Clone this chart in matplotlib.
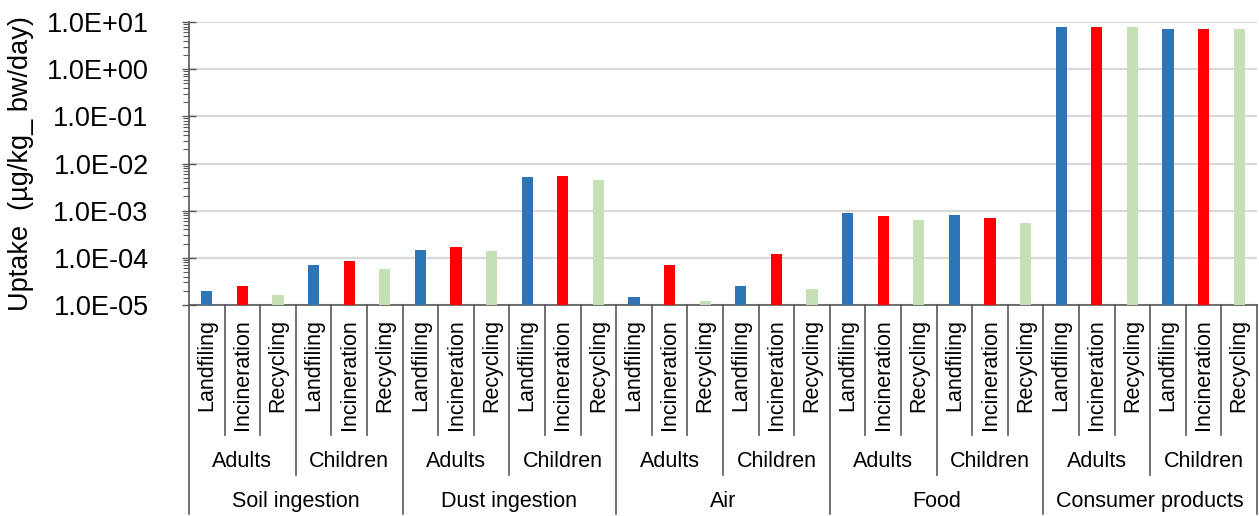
import numpy as np
import matplotlib
matplotlib.use('Agg')
import matplotlib.pyplot as plt
from matplotlib.ticker import LogLocator, NullFormatter, FixedLocator

plt.rcParams['font.family'] = ['Liberation Sans', 'DejaVu Sans']

# data
groups = ['Soil ingestion', 'Dust ingestion', 'Air', 'Food', 'Consumer products']
ages = ['Adults', 'Children']
methods = ['Landfiling', 'Incineration', 'Recycling']

# one value per (group, age), in order
landfiling   = [2.0e-5, 6.9e-5, 1.47e-4, 5.1e-3, 1.45e-5, 2.5e-5, 8.8e-4, 8.1e-4, 7.8, 7.2]
incineration = [2.5e-5, 8.4e-5, 1.67e-4, 5.4e-3, 6.9e-5, 1.19e-4, 7.6e-4, 7.1e-4, 7.8, 7.2]
recycling    = [1.65e-5, 5.7e-5, 1.37e-4, 4.5e-3, 1.24e-5, 2.15e-5, 6.2e-4, 5.4e-4, 7.8, 7.1]

ytick_vals = [1e-5, 1e-4, 1e-3, 1e-2, 1e-1, 1e0, 1e1]
ytick_labels = ['1.0E-05', '1.0E-04', '1.0E-03', '1.0E-02', '1.0E-01', '1.0E+00', '1.0E+01']

colors = ['#2E75B6', '#FF0000', '#C5E0B4']
line_col = '#595959'

fig = plt.figure(figsize=(12.59, 5.16), dpi=100)
# axes placed in pixel terms: left 189, right 1257, top 22, bottom 305
W, H = 1259, 516
ax_w = 1257 - 189
ax_h = 305 - 22
ax = fig.add_axes([189 / W, (H - 305) / H, ax_w / W, ax_h / H])

series = [landfiling, incineration, recycling]
n_sub = len(groups) * len(ages)
for m, vals in enumerate(series):
    x = np.arange(n_sub) * 3 + m
    ax.bar(x, vals, width=0.31, color=colors[m], zorder=3)

n_cat = n_sub * 3
ax.set_xlim(-0.5, n_cat - 0.5)
ax.set_yscale('log')
ax.set_ylim(1e-5, 1e1)
ax.yaxis.set_major_locator(FixedLocator(ytick_vals))
ax.set_yticklabels(ytick_labels, fontsize=19.5)
ax.yaxis.set_minor_locator(LogLocator(base=10, subs=np.arange(2, 10)))
ax.yaxis.set_minor_formatter(NullFormatter())
ax.tick_params(axis='y', which='major', direction='inout', length=10, width=1, color=line_col, pad=24)
ax.tick_params(axis='y', which='minor', direction='out', length=4, width=0.8, color=line_col)
ax.grid(axis='y', which='major', color='#D9D9D9', lw=1.6, zorder=0)
ax.set_xticks([])
for s in ['top', 'right']:
    ax.spines[s].set_visible(False)
for s in ['left', 'bottom']:
    ax.spines[s].set_color(line_col)
    ax.spines[s].set_linewidth(1.2)

ax.set_ylabel('Uptake  (µg/kg_ bw/day)', fontsize=19.5)
ax.yaxis.set_label_coords(-(189 - 34) / ax_w, 0.5)

tr = ax.get_xaxis_transform()


def fy(px):
    # pixels below the x axis -> axes fraction
    return -px / ax_h


# category separators and labels
lv1, lv2, lv3 = 130, 170, 209
for i in range(n_cat + 1):
    xb = i - 0.5
    if i % 6 == 0:
        depth = lv3
    elif i % 3 == 0:
        depth = lv2
    else:
        depth = lv1
    ax.plot([xb, xb], [0, fy(depth)], transform=tr, color=line_col, lw=1.2, clip_on=False)

for i in range(n_cat):
    ax.text(i, fy(14), methods[i % 3], transform=tr, rotation=90, ha='center', va='top',
            fontsize=15.5)

for j in range(n_sub):
    ax.text(j * 3 + 1, fy(157), ages[j % 2], transform=tr, ha='center', va='center', fontsize=15.5)

for g in range(len(groups)):
    ax.text(g * 6 + 2.5, fy(197), groups[g], transform=tr, ha='center', va='center', fontsize=15.5)

fig.savefig('out.png', dpi=100)
